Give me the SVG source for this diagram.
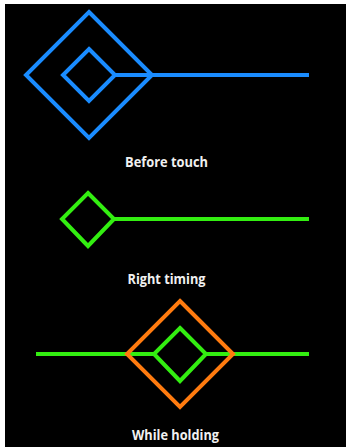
<svg xmlns="http://www.w3.org/2000/svg" width="346" height="447" viewBox="0 0 346 447">
<style>
.bg{fill:#000}
.blue{fill:none;stroke:#1a8cff;stroke-width:4}
.green{fill:none;stroke:#33ee11;stroke-width:4}
.orange{fill:none;stroke:#ff7b0f;stroke-width:4}
.lbl{font-family:"Open Sans","Liberation Sans",sans-serif;font-weight:bold;font-size:13.5px;fill:#f0f0f0;text-anchor:middle}
</style>
<rect x="0" y="0" width="346" height="447" fill="#fff"/>
<rect class="bg" x="5" y="4" width="341" height="443"/>
<g id="before-touch">
  <line class="blue" x1="115" y1="75" x2="309" y2="75"/>
  <polygon class="blue" points="89,12 152,75 89,138 26,75"/>
  <polygon class="blue" points="89,49 115,75 89,101 63,75"/>
  <text class="lbl" x="166.5" y="167" textLength="83" lengthAdjust="spacingAndGlyphs">Before touch</text>
</g>
<g id="right-timing">
  <line class="green" x1="115" y1="219" x2="309" y2="219"/>
  <polygon class="green" points="88,193 114,219 88,246 62,219"/>
  <text class="lbl" x="166.5" y="283.5" textLength="78" lengthAdjust="spacingAndGlyphs">Right timing</text>
</g>
<g id="while-holding">
  <line class="green" x1="36" y1="354" x2="154" y2="354"/>
  <line class="green" x1="206" y1="354" x2="309" y2="354"/>
  <polygon class="green" points="180,328 206,354 180,381 154,354"/>
  <polygon class="orange" points="180,301 233,354 180,407 127,354"/>
  <text class="lbl" x="175.5" y="440" textLength="87" lengthAdjust="spacingAndGlyphs">While holding</text>
</g>
</svg>
